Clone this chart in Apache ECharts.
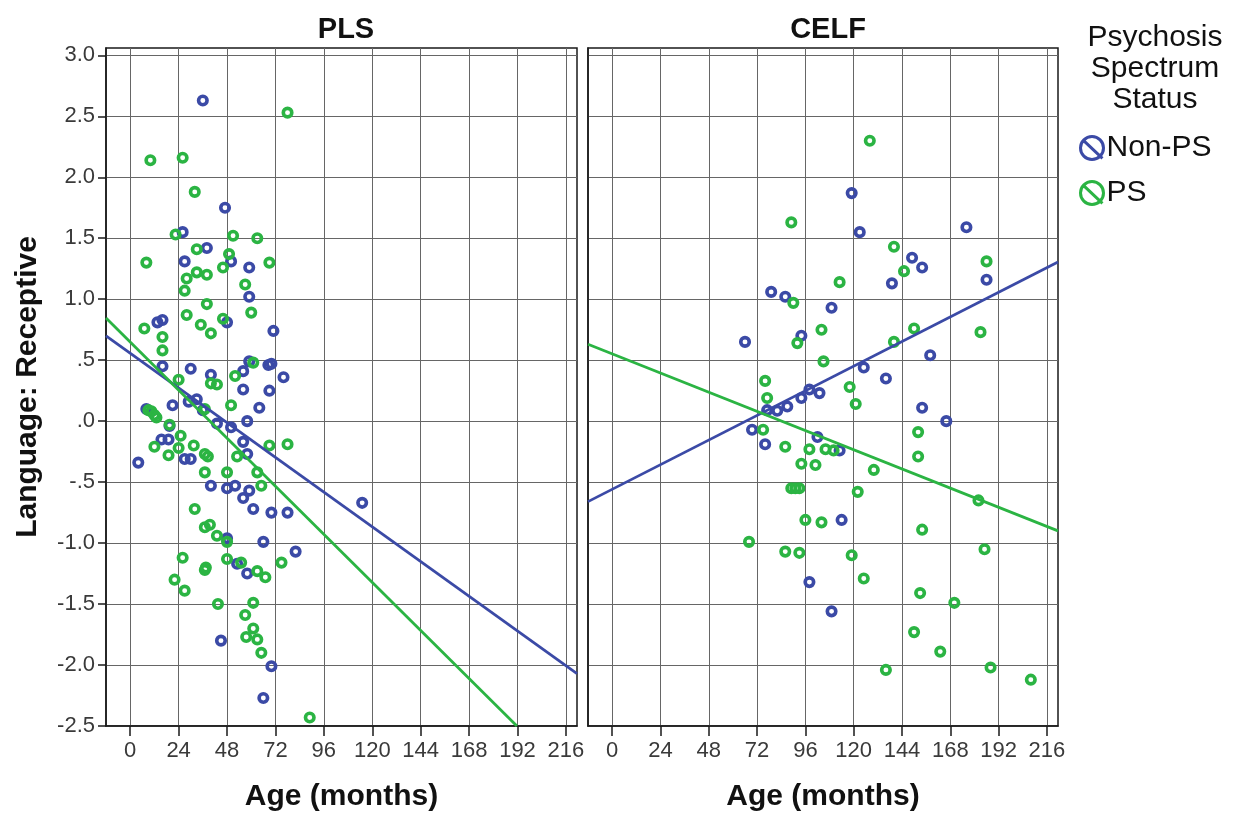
<!DOCTYPE html>
<html lang="en">
<head>
    <meta charset="UTF-8">
    <title>Language: Receptive by Age</title>
    <script src="https://cdn.jsdelivr.net/npm/echarts@6/dist/echarts.min.js"></script>
    <style>
        html, body { margin: 0; padding: 0; background: #fff; }
    </style>
</head>
<body>
    <div id="chart" style="width: 1240px; height: 821px;"></div>
</body>
</html>
<script>
    // tick values
    var xTicks = [0, 24, 48, 72, 96, 120, 144, 168, 192, 216];
    var yTicks = [-2.5, -2, -1.5, -1, -0.5, 0, 0.5, 1, 1.5, 2, 2.5, 3];

    // PLS panel, [age in months, score]
    var plsNonPS = [[36,2.63],[47,1.75],[26,1.55],[38,1.42],[27,1.31],[50,1.31],[59,1.26],[59,1.02],
        [13.5,0.81],[16,0.83],[48,0.81],[71,0.74],[16,0.45],[30,0.43],[40,0.38],[56,0.41],[59,0.49],
        [68.5,0.46],[70,0.47],[76,0.36],[56,0.26],[69,0.25],[21,0.13],[29,0.16],[33,0.18],[8,0.10],
        [36,0.09],[64,0.11],[43,-0.02],[50,-0.05],[58,0.00],[19.5,-0.04],[15.5,-0.15],[19,-0.15],
        [27,-0.31],[30,-0.31],[56,-0.17],[58,-0.27],[4,-0.34],[40,-0.53],[48,-0.55],[52,-0.53],
        [59,-0.57],[56,-0.63],[61,-0.72],[70,-0.75],[78,-0.75],[48,-0.96],[66,-0.99],[82,-1.07],
        [53,-1.17],[58,-1.25],[45,-1.80],[70,-2.01],[66,-2.27],[115,-0.67]];
    var plsPS = [[78,2.53],[10,2.14],[26,2.16],[32,1.88],[22.5,1.53],[51,1.52],[63,1.50],[33,1.41],
        [8,1.30],[49,1.37],[69,1.30],[33,1.22],[38,1.20],[46,1.26],[28,1.17],[27,1.07],[57,1.12],
        [38,0.96],[7,0.76],[28,0.87],[35,0.79],[40,0.72],[46,0.84],[60,0.89],[16,0.69],[16,0.58],
        [24,0.34],[40,0.31],[43,0.30],[52,0.37],[61,0.48],[9,0.09],[10.5,0.08],[12,0.05],[13,0.03],
        [37,0.10],[50,0.13],[19.5,-0.03],[12,-0.21],[25,-0.12],[19,-0.28],[24,-0.22],[31.5,-0.20],
        [37,-0.27],[38.5,-0.29],[53,-0.29],[69,-0.20],[78,-0.19],[37,-0.42],[48,-0.42],[63,-0.42],
        [65,-0.53],[32,-0.72],[37,-0.87],[39.5,-0.85],[43,-0.94],[48,-0.99],[26,-1.12],[48,-1.13],
        [55,-1.16],[63,-1.23],[67,-1.28],[75,-1.16],[37,-1.22],[37.5,-1.20],[22,-1.30],[27,-1.39],
        [43.5,-1.50],[61,-1.49],[57,-1.59],[61,-1.70],[57.5,-1.77],[63,-1.79],[65,-1.90],[89,-2.43]];
    var plsFitNonPS = [[-12,0.70],[221.5,-2.07]];
    var plsFitPS = [[-12,0.845],[191.7,-2.5]];

    // CELF panel
    var celfNonPS = [[119,1.87],[123,1.55],[176,1.59],[149,1.34],[154,1.26],[186,1.16],[139,1.13],
        [79,1.06],[86,1.02],[109,0.93],[94,0.70],[66,0.65],[158,0.54],[125,0.44],[136,0.35],[98,0.26],
        [94,0.19],[87,0.12],[103,0.23],[77,0.09],[82,0.085],[154,0.11],[166,0.00],[69.5,-0.07],
        [76,-0.19],[102,-0.13],[113,-0.24],[114,-0.81],[98,-1.32],[109,-1.56]];
    var celfPS = [[128,2.30],[89,1.63],[140,1.43],[145,1.23],[186,1.31],[113,1.14],[90,0.97],[92,0.64],
        [104,0.75],[150,0.76],[183,0.73],[105,0.49],[140,0.65],[76,0.33],[118,0.28],[77,0.19],[121,0.14],
        [152,-0.09],[75,-0.07],[86,-0.21],[98,-0.23],[106,-0.23],[110,-0.24],[152,-0.29],[94,-0.35],
        [101,-0.36],[130,-0.40],[89,-0.55],[91,-0.55],[93,-0.55],[122,-0.58],[182,-0.65],[96,-0.81],
        [104,-0.83],[154,-0.89],[68,-0.99],[86,-1.07],[93,-1.08],[119,-1.10],[185,-1.05],[125,-1.29],
        [153,-1.41],[170,-1.49],[150,-1.73],[163,-1.89],[136,-2.04],[188,-2.02],[208,-2.12]];
    var celfFitNonPS = [[-12,-0.66],[221.5,1.305]];
    var celfFitPS = [[-12,0.63],[221.5,-0.90]];

    var blue = '#3b4aa6';
    var green = '#2bb443';
    var font = '"Liberation Sans", Arial, sans-serif';
    var slashIcon = 'path://M12,1 A11,11 0 1 1 11.99,1 Z M3,4 L22,22';

    function xAxisFor(idx) {
        return {
            type: 'value', gridIndex: idx, min: -12, max: 221.5,
            name: 'Age (months)', nameLocation: 'middle', nameGap: 56,
            nameTextStyle: { fontFamily: font, fontSize: 30, fontWeight: 'bold', color: '#111' },
            axisLine: { show: true, onZero: false, lineStyle: { color: '#1a1a1a', width: 1.5 } },
            axisTick: { show: true, length: 10, customValues: xTicks, lineStyle: { color: '#1a1a1a', width: 1.5 } },
            axisLabel: { customValues: xTicks, fontFamily: font, fontSize: 22, color: '#3a3a3a', margin: 14 },
            splitLine: { show: true, lineStyle: { color: '#666', width: 1 } }
        };
    }
    function yAxisFor(idx) {
        var first = idx === 0;
        return {
            type: 'value', gridIndex: idx, min: -2.5, max: 3.06,
            name: first ? 'Language: Receptive' : '', nameLocation: 'middle', nameGap: 63,
            nameTextStyle: { fontFamily: font, fontSize: 30, fontWeight: 'bold', color: '#111' },
            axisLine: { show: true, onZero: false, lineStyle: { color: '#1a1a1a', width: 1.5 } },
            axisTick: { show: first, length: 8, customValues: yTicks, lineStyle: { color: '#1a1a1a', width: 1.5 } },
            axisLabel: {
                show: first, customValues: yTicks, fontFamily: font, fontSize: 22, color: '#3a3a3a', margin: 11,
                formatter: function (v) { return v.toFixed(1).replace(/^(-?)0\./, '$1.'); }
            },
            splitLine: { show: true, lineStyle: { color: '#666', width: 1 } }
        };
    }
    function scatter(name, idx, data, color) {
        return {
            name: name, type: 'scatter', xAxisIndex: idx, yAxisIndex: idx, data: data,
            symbol: 'circle', symbolSize: 8.5,
            itemStyle: { color: 'rgba(255,255,255,0)', borderColor: color, borderWidth: 3.6, opacity: 1 },
            emphasis: { disabled: true }
        };
    }
    function fit(name, idx, data, color) {
        return {
            name: name, type: 'line', xAxisIndex: idx, yAxisIndex: idx, data: data,
            showSymbol: false, silent: true, z: 3,
            lineStyle: { color: color, width: 2.8 }, itemStyle: { color: color }
        };
    }

    var chart = echarts.init(document.getElementById('chart'));
    chart.setOption({
        animation: false,
        title: [
            { text: 'PLS', left: 341, top: 10, textAlign: 'center',
              textStyle: { fontFamily: font, fontSize: 29, fontWeight: 'bold', color: '#111' } },
            { text: 'CELF', left: 823, top: 10, textAlign: 'center',
              textStyle: { fontFamily: font, fontSize: 29, fontWeight: 'bold', color: '#111' } },
            { text: 'Psychosis\nSpectrum\nStatus', left: 1150, top: 17, textAlign: 'center',
              textStyle: { fontFamily: font, fontSize: 30, fontWeight: 'normal', lineHeight: 31, color: '#111' } }
        ],
        legend: {
            orient: 'vertical', left: 1074, top: 128,
            itemWidth: 23, itemHeight: 23, itemGap: 15,
            selectedMode: false,
            textStyle: { fontFamily: font, fontSize: 30, color: '#111', padding: [0, 0, 0, -2] },
            data: [
                { name: 'Non-PS', icon: slashIcon,
                  itemStyle: { color: 'rgba(255,255,255,0)', borderColor: blue, borderWidth: 3, opacity: 1 } },
                { name: 'PS', icon: slashIcon,
                  itemStyle: { color: 'rgba(255,255,255,0)', borderColor: green, borderWidth: 3, opacity: 1 } }
            ]
        },
        grid: [
            { left: 106, top: 48, width: 471, height: 678, show: true, borderColor: '#1a1a1a', borderWidth: 1.5 },
            { left: 588, top: 48, width: 470, height: 678, show: true, borderColor: '#1a1a1a', borderWidth: 1.5 }
        ],
        xAxis: [xAxisFor(0), xAxisFor(1)],
        yAxis: [yAxisFor(0), yAxisFor(1)],
        series: [
            scatter('Non-PS', 0, plsNonPS, blue),
            scatter('PS', 0, plsPS, green),
            fit('Non-PS', 0, plsFitNonPS, blue),
            fit('PS', 0, plsFitPS, green),
            scatter('Non-PS', 1, celfNonPS, blue),
            scatter('PS', 1, celfPS, green),
            fit('Non-PS', 1, celfFitNonPS, blue),
            fit('PS', 1, celfFitPS, green)
        ]
    });
    window.onresize = chart.resize;
</script>
